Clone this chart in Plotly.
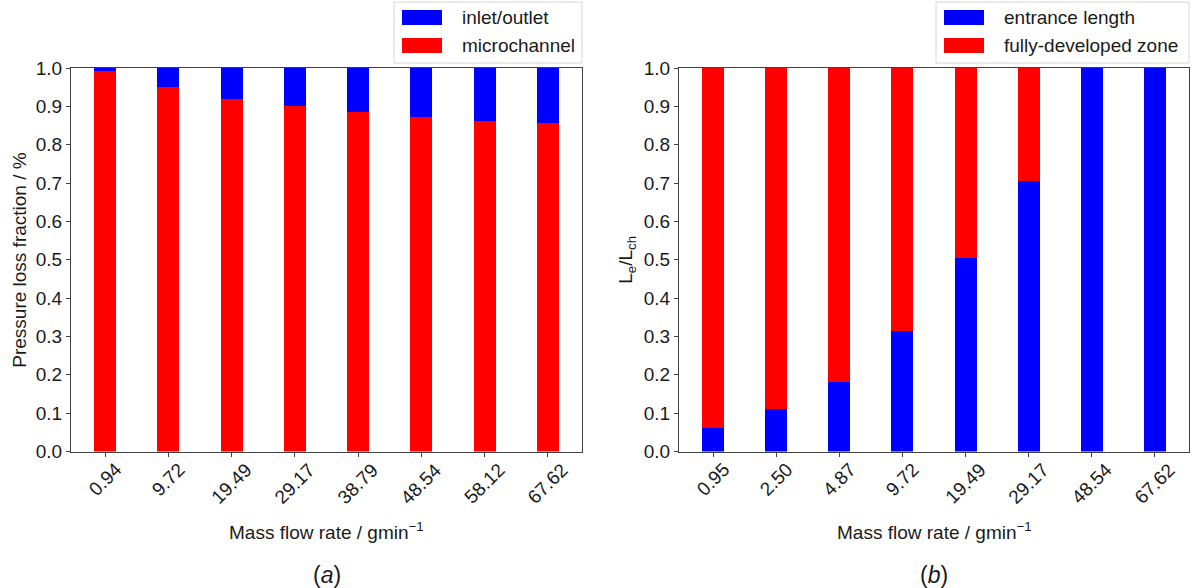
import plotly.graph_objects as go

# Panel (a): pressure loss split vs. mass flow rate
flow_a = ["0.94", "9.72", "19.49", "29.17", "38.79", "48.54", "58.12", "67.62"]
microchannel = [0.992, 0.950, 0.919, 0.900, 0.884, 0.871, 0.862, 0.856]
inlet_outlet = [0.008, 0.050, 0.081, 0.100, 0.116, 0.129, 0.138, 0.144]

# Panel (b): entrance length vs. fully-developed zone
flow_b = ["0.95", "2.50", "4.87", "9.72", "19.49", "29.17", "48.54", "67.62"]
entrance_length = [0.060, 0.110, 0.182, 0.314, 0.504, 0.705, 1.000, 1.000]
fully_developed = [0.940, 0.890, 0.818, 0.686, 0.496, 0.295, 0.000, 0.000]

y_ticks = [0.0, 0.1, 0.2, 0.3, 0.4, 0.5, 0.6, 0.7, 0.8, 0.9, 1.0]

BLUE = "#0000FF"
RED = "#FF0000"
FONT = "Liberation Sans, Arial, sans-serif"
W, H = 1197, 588


def px(x):
    return x / W


def py(y):
    return 1 - y / H


fig = go.Figure()

bar_kw = dict(width=0.35, marker_line_width=0, showlegend=False)
fig.add_trace(go.Bar(x=flow_a, y=microchannel, marker_color=RED, name="microchannel",
                     xaxis="x", yaxis="y", **bar_kw))
fig.add_trace(go.Bar(x=flow_a, y=inlet_outlet, marker_color=BLUE, name="inlet/outlet",
                     xaxis="x", yaxis="y", **bar_kw))
fig.add_trace(go.Bar(x=flow_b, y=entrance_length, marker_color=BLUE, name="entrance length",
                     xaxis="x2", yaxis="y2", **bar_kw))
fig.add_trace(go.Bar(x=flow_b, y=fully_developed, marker_color=RED, name="fully-developed zone",
                     xaxis="x2", yaxis="y2", **bar_kw))

# plot area geometry (pixels)
A_L, A_R = 71, 582
B_L, B_R = 679, 1189
TOP, BOT = 68, 451.5

xa_common = dict(type="category", range=[-0.54, 7.54], showgrid=False, zeroline=False,
                 showline=True, linecolor="#404040", linewidth=1, mirror=True,
                 ticks="outside", ticklen=4, tickcolor="#404040", showticklabels=False,
                 automargin=False)
ya_common = dict(range=[0, 1], showgrid=False, zeroline=False, showline=True,
                 linecolor="#404040", linewidth=1, mirror=True, ticks="outside",
                 ticklen=4, tickcolor="#404040", tickvals=y_ticks,
                 ticktext=[f"{v:.1f}" for v in y_ticks], automargin=False,
                 tickfont=dict(family=FONT, size=19, color="#1a1a1a"))

fig.update_layout(
    width=W, height=H, barmode="stack", bargap=0,
    margin=dict(l=0, r=0, t=0, b=0, autoexpand=False),
    paper_bgcolor="white", plot_bgcolor="white",
    font=dict(family=FONT, size=19, color="#1a1a1a"),
    xaxis=dict(domain=[px(A_L), px(A_R)], anchor="y", **xa_common),
    yaxis=dict(domain=[py(BOT), py(TOP)], anchor="x", **ya_common),
    xaxis2=dict(domain=[px(B_L), px(B_R)], anchor="y2", **xa_common),
    yaxis2=dict(domain=[py(BOT), py(TOP)], anchor="x2", **ya_common),
)

annotations = []
# rotated category labels, centred under each tick
for xref, labels in (("x", flow_a), ("x2", flow_b)):
    for i, lab in enumerate(labels):
        annotations.append(dict(x=i, xref=xref, y=py(BOT), yref="paper",
                                text=lab, textangle=-45, showarrow=False,
                                xanchor="center", yanchor="top", yshift=-5,
                                font=dict(family=FONT, size=19, color="#1a1a1a")))

# axis titles and panel tags
for cx in ((A_L + A_R) / 2, (B_L + B_R) / 2):
    annotations.append(dict(x=px(cx), y=py(531), xref="paper", yref="paper",
                            text="Mass flow rate / gmin<sup>\u22121</sup>", showarrow=False,
                            xanchor="center", yanchor="middle",
                            font=dict(family=FONT, size=19, color="#1a1a1a")))
annotations.append(dict(x=px(327), y=py(575), xref="paper", yref="paper",
                        text="(<i>a</i>)", showarrow=False, xanchor="center", yanchor="middle",
                        font=dict(family=FONT, size=23, color="#1a1a1a")))
annotations.append(dict(x=px(934), y=py(575), xref="paper", yref="paper",
                        text="(<i>b</i>)", showarrow=False, xanchor="center", yanchor="middle",
                        font=dict(family=FONT, size=23, color="#1a1a1a")))
annotations.append(dict(x=px(20), y=py((TOP + BOT) / 2), xref="paper", yref="paper",
                        text="Pressure loss fraction / %", textangle=-90, showarrow=False,
                        xanchor="center", yanchor="middle",
                        font=dict(family=FONT, size=19, color="#1a1a1a")))
annotations.append(dict(x=px(627), y=py((TOP + BOT) / 2), xref="paper", yref="paper",
                        text="L<sub>e</sub>/L<sub>ch</sub>", textangle=-90, showarrow=False,
                        xanchor="center", yanchor="middle",
                        font=dict(family=FONT, size=19, color="#1a1a1a")))

# legends drawn as boxes with swatches
shapes = []
legends = [
    (394, A_R, [(BLUE, "inlet/outlet"), (RED, "microchannel")]),
    (936, B_R, [(BLUE, "entrance length"), (RED, "fully-developed zone")]),
]
for left, right, items in legends:
    shapes.append(dict(type="rect", xref="paper", yref="paper",
                       x0=px(left), x1=px(right), y0=py(63), y1=py(2),
                       line=dict(color="#d5d5d5", width=1), fillcolor="white"))
    for i, (col, label) in enumerate(items):
        y0, y1 = 10 + 28 * i, 25 + 28 * i
        shapes.append(dict(type="rect", xref="paper", yref="paper",
                           x0=px(left + 8), x1=px(left + 48), y0=py(y1), y1=py(y0),
                           line=dict(width=0), fillcolor=col))
        annotations.append(dict(x=px(left + 66), y=py((y0 + y1) / 2), xref="paper", yref="paper",
                                text=label, showarrow=False, xanchor="left", yanchor="middle",
                                font=dict(family=FONT, size=19, color="#1a1a1a")))

fig.update_layout(annotations=annotations, shapes=shapes)
fig.write_html("out.html")
